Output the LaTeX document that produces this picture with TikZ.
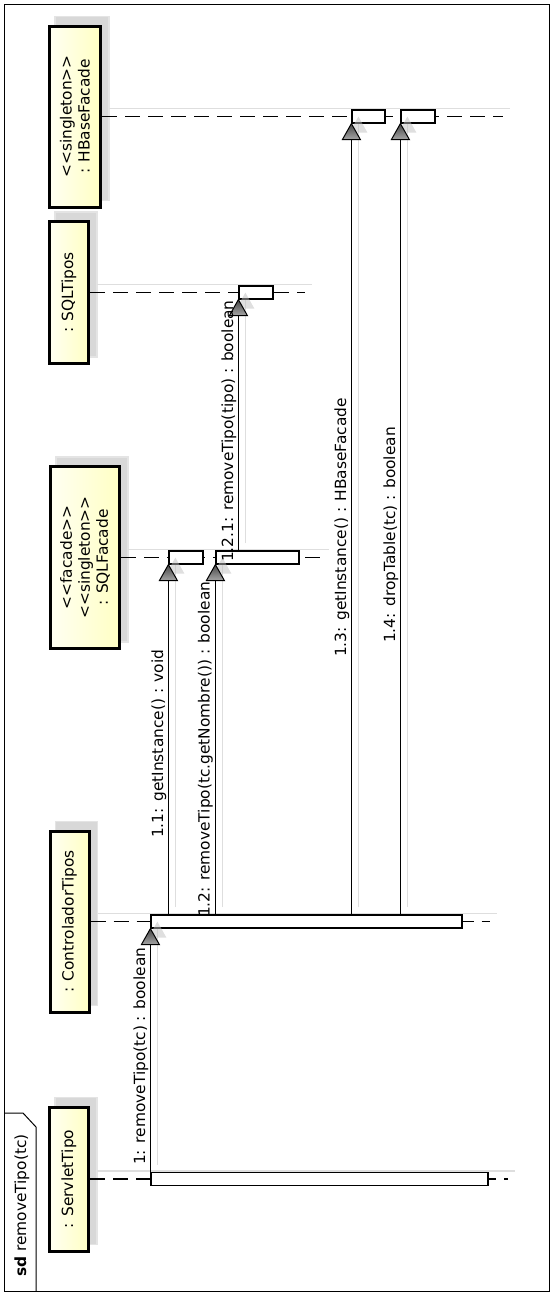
\documentclass[tikz,border=0pt]{standalone}
\usepackage{fontspec}
\setmainfont{DejaVu Sans}
\usetikzlibrary{calc,backgrounds}

\definecolor{boxyellow}{RGB}{255,255,196}
\definecolor{boxwhite}{RGB}{255,255,242}
\definecolor{shadowfill}{RGB}{216,216,216}
\definecolor{shadowedge}{RGB}{228,228,228}
\definecolor{shadowline}{RGB}{222,222,222}
\definecolor{headdark}{RGB}{70,70,70}
\definecolor{headlight}{RGB}{165,165,165}

% stereotype text with separated angle brackets
\newcommand\stereo[1]{<\kern0pt<#1>\kern0pt>}

\tikzset{
  txt/.style={font=\fontsize{15.4}{18}\selectfont},
  participant/.style={txt, rotate=90, draw=black, line width=3pt,
    left color=boxwhite, right color=boxyellow, inner sep=0pt, align=center},
  boxshadow/.style={fill=shadowfill, draw=shadowedge, line width=1.5pt},
  lifeline/.style={line width=1.1pt, dash pattern=on 15pt off 8pt},
  lifeshadow/.style={draw=shadowline, line width=1.2pt},
  actbar/.style={draw=black, fill=white, line width=1.2pt, inner sep=0pt, minimum height=13pt},
  msgline/.style={draw=black, line width=1.3pt},
  msgshadow/.style={draw=shadowline, line width=1.2pt},
  msglabel/.style={txt, rotate=90, anchor=south west, inner sep=0pt},
  headfill/.style={draw=black, line width=1pt, top color=headdark, bottom color=headlight},
  headshadow/.style={fill=black!25, opacity=0.5},
  frame/.style={draw=black, line width=1pt},
}

% filled call arrow head with its tip at the given point
\newcommand\callhead[1]{%
  \shadedraw[headfill] (#1) -- ++(-9,16) -- ++(18,0) -- cycle;}
\newcommand\callheadshadow[1]{%
  \fill[headshadow] ($(#1)+(7,-7)$) -- ++(-9,16) -- ++(18,0) -- cycle;}

\begin{document}
\begin{tikzpicture}[x=1pt,y=-1pt]
\useasboundingbox (0,0) rectangle (554,1296);

% diagram frame with its tab
\draw[frame] (4,4) rectangle (549,1291);
\draw[frame] (4,1113) -- (23,1113) -- (36,1127) -- (36,1291);
\node[txt, rotate=90, anchor=west, inner sep=0pt] (sdlabel) at (22,1277)
  {\textbf{sd} removeTipo(tc)};

% participants
\node[participant, minimum width=181pt, minimum height=51pt] (hbase) at (75,116.5)
  {\stereo{singleton}\\: HBaseFacade};
\node[participant, minimum width=142pt, minimum height=39pt] (sqltipos) at (69,292.5)
  {: SQLTipos};
\node[participant, minimum width=182pt, minimum height=69pt] (sqlfacade) at (85,557.5)
  {\stereo{facade}\\\stereo{singleton}\\: SQLFacade};
\node[participant, minimum width=181pt, minimum height=39pt] (ctrl) at (69.5,921.5)
  {: ControladorTipos};
\node[participant, minimum width=144pt, minimum height=39pt] (servlet) at (69,1179)
  {: ServletTipo};

% lifeline ends
\coordinate (hbaseend) at (503,116.5);
\coordinate (sqltiposend) at (305,292.5);
\coordinate (sqlfacadeend) at (322,557.5);
\coordinate (ctrlend) at (490,921.5);
\coordinate (servletend) at (508,1179);

% activation bars
\node[actbar, minimum width=337pt] (servletact) at (319.5,1179) {};
\node[actbar, minimum width=311pt] (ctrlact) at (306.5,921.5) {};
\node[actbar, minimum width=34pt] (sqlf1) at (186,557.5) {};
\node[actbar, minimum width=83pt] (sqlf2) at (257.5,557.5) {};
\node[actbar, minimum width=34pt] (sqlt) at (256,292.5) {};
\node[actbar, minimum width=33pt] (hb1) at (368.5,116.5) {};
\node[actbar, minimum width=34pt] (hb2) at (418,116.5) {};

\begin{scope}[on background layer]
  % participant shadows
  \foreach \p in {hbase,sqltipos,sqlfacade,ctrl,servlet}
    \draw[boxshadow] ($(\p.north west)+(7,-8)$) rectangle ($(\p.south east)+(7,-8)$);
  % lifelines and their shadows
  \foreach \p in {hbase,sqltipos,sqlfacade,ctrl,servlet} {
    \draw[lifeshadow] ($(\p.south)+(7,-8)$) -- ($(\p end)+(7,-8)$);
    \draw[lifeline] (\p.south) -- (\p end);
  }
  % message shadows
  \draw[msgshadow] ($(servletact.north west)+(7,-7)$) -- ($(ctrlact.south west)+(7,-7)$);
  \draw[msgshadow] ($(ctrlact.north -| sqlf1.west)+(7,-7)$) -- ($(sqlf1.south west)+(7,-7)$);
  \draw[msgshadow] ($(ctrlact.north -| sqlf2.west)+(7,-7)$) -- ($(sqlf2.south west)+(7,-7)$);
  \draw[msgshadow] ($(sqlf2.north -| sqlt.west)+(7,-7)$) -- ($(sqlt.south west)+(7,-7)$);
  \draw[msgshadow] ($(ctrlact.north -| hb1.west)+(7,-7)$) -- ($(hb1.south west)+(7,-7)$);
  \draw[msgshadow] ($(ctrlact.north -| hb2.west)+(7,-7)$) -- ($(hb2.south west)+(7,-7)$);
\end{scope}

% messages
\draw[msgline] (servletact.north west) -- (ctrlact.south west);
\draw[msgline] (ctrlact.north -| sqlf1.west) -- (sqlf1.south west);
\draw[msgline] (ctrlact.north -| sqlf2.west) -- (sqlf2.south west);
\draw[msgline] (sqlf2.north -| sqlt.west) -- (sqlt.south west);
\draw[msgline] (ctrlact.north -| hb1.west) -- (hb1.south west);
\draw[msgline] (ctrlact.north -| hb2.west) -- (hb2.south west);

% arrow heads
\foreach \t in {ctrlact.south west, sqlf1.south west, sqlf2.south west,
                sqlt.south west, hb1.south west, hb2.south west}
  \callheadshadow{\t};
\foreach \t in {ctrlact.south west, sqlf1.south west, sqlf2.south west,
                sqlt.south west, hb1.south west, hb2.south west}
  \callhead{\t};

% message labels
\node[msglabel] (m1) at (148.5,1165) {1: removeTipo(tc) : boolean};
\node[msglabel] (m11) at (166.5,838) {1.1: getInstance() : void};
\node[msglabel] (m12) at (213,917) {1.2: removeTipo(tc.getNombre()) : boolean};
\node[msglabel] (m121) at (236.5,562) {1.2.1: removeTipo(tipo) : boolean};
\node[msglabel] (m13) at (349.5,657) {1.3: getInstance() : HBaseFacade};
\node[msglabel] (m14) at (398.5,643) {1.4: dropTable(tc) : boolean};
\end{tikzpicture}
\end{document}
